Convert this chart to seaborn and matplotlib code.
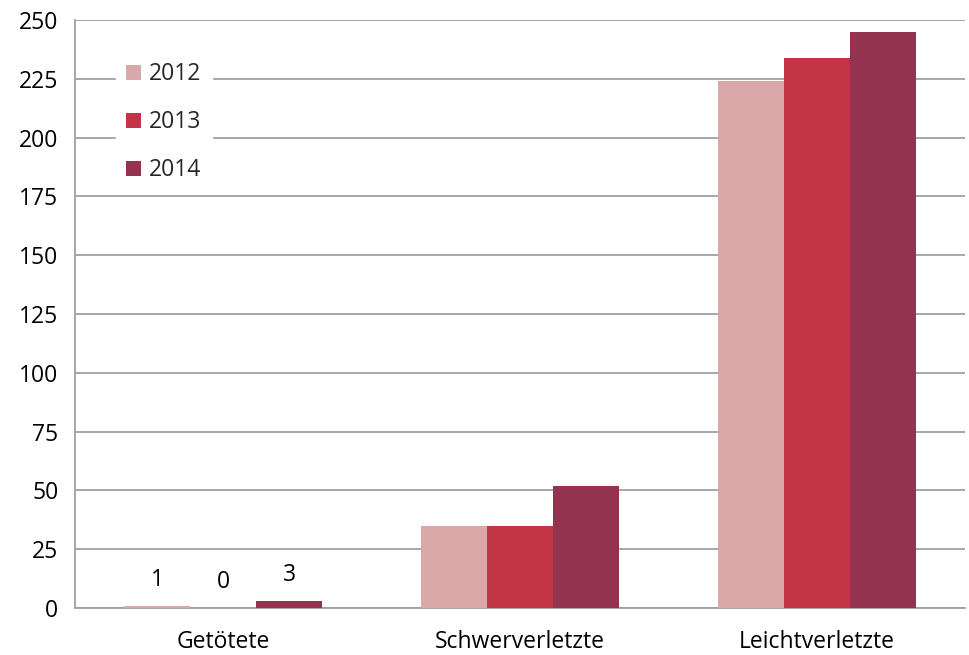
import matplotlib
matplotlib.use("Agg")
import matplotlib.pyplot as plt
import seaborn as sns
import pandas as pd

categories = ["Getötete", "Schwerverletzte", "Leichtverletzte"]
years = ["2012", "2013", "2014"]
values_2012 = [1, 35, 224]
values_2013 = [0, 35, 234]
values_2014 = [3, 52, 245]
colors = ["#D9A9A9", "#C43447", "#933350"]
yticks = [0, 25, 50, 75, 100, 125, 150, 175, 200, 225, 250]

rows = []
for yr, vals in zip(years, [values_2012, values_2013, values_2014]):
    for c, v in zip(categories, vals):
        rows.append({"Kategorie": c, "Jahr": yr, "Wert": v})
df = pd.DataFrame(rows)

sns.set_theme(style="white")
plt.rcParams["font.family"] = ["Open Sans", "DejaVu Sans"]
FS = 16.5

fig = plt.figure(figsize=(9.69, 6.55), dpi=100)
ax = fig.add_axes([75/969, 47/655, 890/969, 588/655])

sns.barplot(data=df, x="Kategorie", y="Wert", hue="Jahr", palette=colors,
            width=0.667, saturation=1, ax=ax, errorbar=None, zorder=3,
            linewidth=0, edgecolor="none")

ax.set_ylim(0, 250)
ax.set_xlim(-0.5, 2.5)
ax.set_yticks(yticks)
ax.set_yticklabels([str(t) for t in yticks], fontsize=FS)
ax.yaxis.grid(True, color="#A0A0A0", linewidth=1.3, zorder=0)
ax.set_axisbelow(True)
ax.set_xlabel("")
ax.set_ylabel("")
ax.set_xticks([0, 1, 2])
ax.set_xticklabels(categories, fontsize=FS)
ax.set_xticks([-0.5, 0.5, 1.5, 2.5], minor=True)
ax.tick_params(axis="x", which="major", length=0, pad=16)
ax.tick_params(axis="x", which="minor", length=7, width=1.3, direction="out")
ax.tick_params(axis="y", length=7, width=1.3, direction="out", pad=5)
ax.tick_params(axis="both", which="both", color="#A0A0A0", labelcolor="black")
for s in ["top", "right"]:
    ax.spines[s].set_visible(False)
for s in ["left", "bottom"]:
    ax.spines[s].set_color("#A0A0A0")
    ax.spines[s].set_linewidth(1.3)

# labels only for first category
for cont in ax.containers:
    bar = cont.patches[0]
    h = bar.get_height()
    ax.annotate(f"{int(h)}", (bar.get_x() + bar.get_width()/2, h),
                xytext=(0, 10), textcoords="offset points",
                ha="center", va="bottom", fontsize=FS, color="black")

leg = ax.legend(loc="upper left", bbox_to_anchor=(0.033, 0.965), frameon=True,
                fontsize=FS, handlelength=0.65, handleheight=0.65, handletextpad=0.35,
                labelspacing=1.05, borderpad=0.45)
leg.get_frame().set_facecolor("white")
leg.get_frame().set_edgecolor("white")
leg.get_frame().set_alpha(1)

fig.savefig("out.png", dpi=100)
